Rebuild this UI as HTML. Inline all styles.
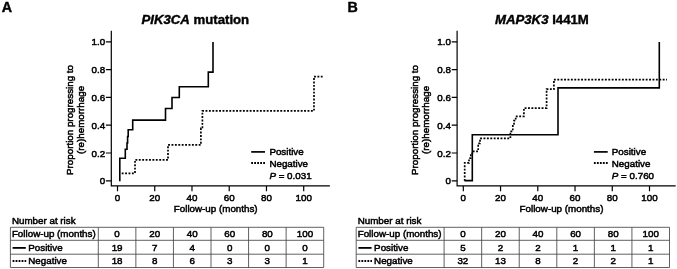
<!DOCTYPE html>
<html><head><meta charset="utf-8"><title>Figure</title>
<style>
html,body{margin:0;padding:0;background:#fff;}
body{width:677px;height:269px;overflow:hidden;}
svg{display:block;opacity:0.999;will-change:transform;}
text{font-family:"Liberation Sans",sans-serif;font-size:9.8px;fill:#000;stroke:#000;stroke-width:0.5px;}
.ti{font-size:13.2px;font-weight:bold;stroke-width:0.4px;}
.pl{font-size:14.3px;font-weight:bold;stroke-width:0.4px;}
.ax{fill:none;stroke:#000;stroke-width:1.2;}
.pos{fill:none;stroke:#000;stroke-width:1.6;stroke-linejoin:miter;}
.neg{fill:none;stroke:#000;stroke-width:1.7;stroke-dasharray:1.9 1.5;}
.lpos{fill:none;stroke:#000;stroke-width:1.7;}
.lpos2{fill:none;stroke:#000;stroke-width:1.8;}
.lneg{fill:none;stroke:#000;stroke-width:1.9;stroke-dasharray:1.8 1.2;}
.tb{fill:none;stroke:#444;stroke-width:0.85;}
</style></head>
<body>
<svg width="677" height="269" viewBox="0 0 677 269">
<rect width="677" height="269" fill="#fff"/>
<path d="M111.3,30.7 V185.9 H329.9" class="ax"/>
<text x="105.1" y="184.3" text-anchor="end">0</text>
<text x="105.1" y="156.5" text-anchor="end">0.2</text>
<text x="105.1" y="128.7" text-anchor="end">0.4</text>
<text x="105.1" y="100.9" text-anchor="end">0.6</text>
<text x="105.1" y="73.1" text-anchor="end">0.8</text>
<text x="105.1" y="45.3" text-anchor="end">1.0</text>
<text x="117.5" y="201.2" text-anchor="middle">0</text>
<text x="154.74" y="201.2" text-anchor="middle">20</text>
<text x="191.98" y="201.2" text-anchor="middle">40</text>
<text x="229.22" y="201.2" text-anchor="middle">60</text>
<text x="266.46" y="201.2" text-anchor="middle">80</text>
<text x="303.7" y="201.2" text-anchor="middle">100</text>
<path d="M105.9,180.8 H111.3 M105.9,153 H111.3 M105.9,125.2 H111.3 M105.9,97.4 H111.3 M105.9,69.6 H111.3 M105.9,41.8 H111.3 M117.5,185.9 V191.3 M154.74,185.9 V191.3 M191.98,185.9 V191.3 M229.22,185.9 V191.3 M266.46,185.9 V191.3 M303.7,185.9 V191.3" class="ax"/>
<text x="215.7" y="211.9" text-anchor="middle">Follow-up (months)</text>
<text transform="translate(72.6,120) rotate(-90)" text-anchor="middle">Proportion progressing to</text>
<text transform="translate(84.3,119.9) rotate(-90)" text-anchor="middle">(re)hemorrhage</text>
<text x="195.3" y="24.4" text-anchor="middle" class="ti"><tspan font-style="italic">PIK3CA</tspan> mutation</text>
<text x="1.8" y="12.1" class="pl">A</text>
<path d="M121.7,173.3 H135 V159.8 H168 V144.9 H200.9 V128.3 H202.4 V110.9 H314 V76.6 H322.6" class="neg"/>
<path d="M119.8,181.3 V158.3 H125.3 V149.3 H127 V143 H127.6 V136.5 H128.2 V129.8 H132.7 V120.1 H165.5 V108.5 H172 V97.5 H179.3 V86.7 H208.3 V72.1 H213 V41.9" class="pos"/>
<path d="M251.2,151.9 H265" class="lpos"/>
<path d="M251.2,163 H265" class="lneg"/>
<text x="269.4" y="155.3">Positive</text>
<text x="269.4" y="166.8">Negative</text>
<text x="269.4" y="178.7"><tspan font-style="italic">P</tspan> = 0.031</text>
<path d="M10.4,227.3 H323.7 M10.4,240.3 H323.7 M10.4,254.2 H323.7 M10.4,267.5 H323.7 M10.4,227.3 V267.5 M98.3,227.3 V267.5 M135.87,227.3 V267.5 M173.43,227.3 V267.5 M211,227.3 V267.5 M248.57,227.3 V267.5 M286.13,227.3 V267.5 M323.7,227.3 V267.5" class="tb"/>
<text x="11.9" y="224.1">Number at risk</text>
<text x="11.9" y="237.3">Follow-up (months)</text>
<path d="M12.6,247.9 H25.8" class="lpos2"/>
<path d="M12.6,261 H26.2" class="lneg"/>
<text x="28.3" y="250.8">Positive</text>
<text x="28.3" y="264.2">Negative</text>
<text x="117.08" y="237.3" text-anchor="middle">0</text>
<text x="154.65" y="237.3" text-anchor="middle">20</text>
<text x="192.22" y="237.3" text-anchor="middle">40</text>
<text x="229.78" y="237.3" text-anchor="middle">60</text>
<text x="267.35" y="237.3" text-anchor="middle">80</text>
<text x="304.92" y="237.3" text-anchor="middle">100</text>
<text x="117.08" y="250.8" text-anchor="middle">19</text>
<text x="154.65" y="250.8" text-anchor="middle">7</text>
<text x="192.22" y="250.8" text-anchor="middle">4</text>
<text x="229.78" y="250.8" text-anchor="middle">0</text>
<text x="267.35" y="250.8" text-anchor="middle">0</text>
<text x="304.92" y="250.8" text-anchor="middle">0</text>
<text x="117.08" y="264.2" text-anchor="middle">18</text>
<text x="154.65" y="264.2" text-anchor="middle">8</text>
<text x="192.22" y="264.2" text-anchor="middle">6</text>
<text x="229.78" y="264.2" text-anchor="middle">3</text>
<text x="267.35" y="264.2" text-anchor="middle">3</text>
<text x="304.92" y="264.2" text-anchor="middle">1</text>
<path d="M457.1,30.7 V185.9 H675.7" class="ax"/>
<text x="450.9" y="184.3" text-anchor="end">0</text>
<text x="450.9" y="156.5" text-anchor="end">0.2</text>
<text x="450.9" y="128.7" text-anchor="end">0.4</text>
<text x="450.9" y="100.9" text-anchor="end">0.6</text>
<text x="450.9" y="73.1" text-anchor="end">0.8</text>
<text x="450.9" y="45.3" text-anchor="end">1.0</text>
<text x="463.3" y="201.2" text-anchor="middle">0</text>
<text x="500.54" y="201.2" text-anchor="middle">20</text>
<text x="537.78" y="201.2" text-anchor="middle">40</text>
<text x="575.02" y="201.2" text-anchor="middle">60</text>
<text x="612.26" y="201.2" text-anchor="middle">80</text>
<text x="649.5" y="201.2" text-anchor="middle">100</text>
<path d="M451.7,180.8 H457.1 M451.7,153 H457.1 M451.7,125.2 H457.1 M451.7,97.4 H457.1 M451.7,69.6 H457.1 M451.7,41.8 H457.1 M463.3,185.9 V191.3 M500.54,185.9 V191.3 M537.78,185.9 V191.3 M575.02,185.9 V191.3 M612.26,185.9 V191.3 M649.5,185.9 V191.3" class="ax"/>
<text x="561.5" y="211.9" text-anchor="middle">Follow-up (months)</text>
<text transform="translate(417.5,120) rotate(-90)" text-anchor="middle">Proportion progressing to</text>
<text transform="translate(429.3,119.9) rotate(-90)" text-anchor="middle">(re)hemorrhage</text>
<text x="541.9" y="24.4" text-anchor="middle" class="ti"><tspan font-style="italic">MAP3K3</tspan> I441M</text>
<text x="347.6" y="11.6" class="pl">B</text>
<path d="M464.7,180.8 V162.9 H469 V158.2 H470.8 V155 H472.3 V151.4 H478.2 V143.4 H480 V138.4 H510.4 V131.3 H512.8 V124 H514 V120.7 H515.7 V116.3 H523.9 V108.1 H546.6 V89.2 H553.9 V79.6 H667" class="neg"/>
<path d="M464.5,180.6 H472.3 V134.7 H558 V87.9 H659.3 V41.9" class="pos"/>
<path d="M593.9,151.9 H607.7" class="lpos"/>
<path d="M593.9,163 H607.7" class="lneg"/>
<text x="611.8" y="155.3">Positive</text>
<text x="611.8" y="166.8">Negative</text>
<text x="611.8" y="178.7"><tspan font-style="italic">P</tspan> = 0.760</text>
<path d="M356.2,227.3 H669.5 M356.2,240.3 H669.5 M356.2,254.2 H669.5 M356.2,267.5 H669.5 M356.2,227.3 V267.5 M444.1,227.3 V267.5 M481.67,227.3 V267.5 M519.23,227.3 V267.5 M556.8,227.3 V267.5 M594.37,227.3 V267.5 M631.93,227.3 V267.5 M669.5,227.3 V267.5" class="tb"/>
<text x="357.7" y="224.1">Number at risk</text>
<text x="357.7" y="237.3">Follow-up (months)</text>
<path d="M358.4,247.9 H371.6" class="lpos2"/>
<path d="M358.4,261 H372" class="lneg"/>
<text x="374.1" y="250.8">Positive</text>
<text x="374.1" y="264.2">Negative</text>
<text x="462.88" y="237.3" text-anchor="middle">0</text>
<text x="500.45" y="237.3" text-anchor="middle">20</text>
<text x="538.02" y="237.3" text-anchor="middle">40</text>
<text x="575.58" y="237.3" text-anchor="middle">60</text>
<text x="613.15" y="237.3" text-anchor="middle">80</text>
<text x="650.72" y="237.3" text-anchor="middle">100</text>
<text x="462.88" y="250.8" text-anchor="middle">5</text>
<text x="500.45" y="250.8" text-anchor="middle">2</text>
<text x="538.02" y="250.8" text-anchor="middle">2</text>
<text x="575.58" y="250.8" text-anchor="middle">1</text>
<text x="613.15" y="250.8" text-anchor="middle">1</text>
<text x="650.72" y="250.8" text-anchor="middle">1</text>
<text x="462.88" y="264.2" text-anchor="middle">32</text>
<text x="500.45" y="264.2" text-anchor="middle">13</text>
<text x="538.02" y="264.2" text-anchor="middle">8</text>
<text x="575.58" y="264.2" text-anchor="middle">2</text>
<text x="613.15" y="264.2" text-anchor="middle">2</text>
<text x="650.72" y="264.2" text-anchor="middle">1</text>
</svg>
</body></html>
